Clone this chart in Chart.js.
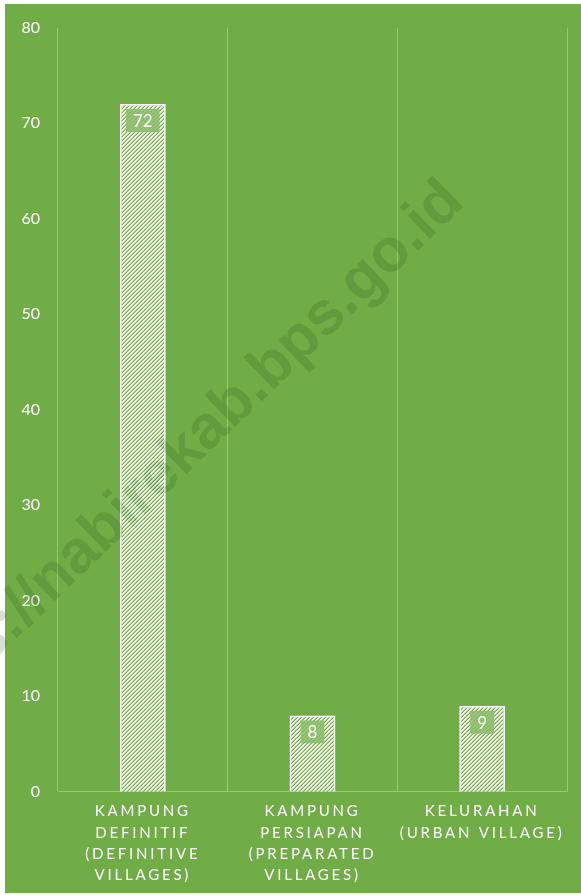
<!DOCTYPE html>
<html>
<head>
<meta charset="utf-8">
<script src="https://cdn.jsdelivr.net/npm/chart.js@4.4.1/dist/chart.umd.min.js"></script>
<style>
  html, body { margin: 0; padding: 0; background: #ffffff; }
  canvas { display: block; }
</style>
</head>
<body>
<canvas id="myChart" width="581" height="895"></canvas>
<script>
const categories = [
    ['KAMPUNG', 'DEFINITIF', '(DEFINITIVE', 'VILLAGES)'],
    ['KAMPUNG', 'PERSIAPAN', '(PREPARATED', 'VILLAGES)'],
    ['KELURAHAN', '(URBAN VILLAGE)']
];
const jumlahDesa = [72, 8, 9];
const yTicks = [0, 10, 20, 30, 40, 50, 60, 70, 80];

const hijau = '#70ad47';

// diagonal hatch like the excel "wide upward diagonal" fill
function makeHatch() {
    const n = 4;
    const c = document.createElement('canvas');
    c.width = n;
    c.height = n;
    const g = c.getContext('2d');
    g.fillStyle = hijau;
    g.fillRect(0, 0, n, n);
    for (let i = 0; i < n; i++) {
        g.fillStyle = '#ffffff';
        g.fillRect(i, (n - 1 - i) % n, 1, 1);
        g.fillRect(i, (n - i) % n, 1, 1);
        g.fillStyle = 'rgba(255,255,255,0.45)';
        g.fillRect(i, (n + 1 - i) % n, 1, 1);
    }
    return document.getElementById('myChart').getContext('2d').createPattern(c, 'repeat');
}

const background = {
    id: 'background',
    beforeDraw(chart) {
        const ctx = chart.ctx;
        ctx.save();
        ctx.fillStyle = '#ffffff';
        ctx.fillRect(0, 0, chart.width, chart.height);
        ctx.fillStyle = hijau;
        ctx.fillRect(5, 4, chart.width - 5, 889);
        ctx.restore();
    }
};

// wide letter spacing on the category labels
const spacedLabels = {
    id: 'spacedLabels',
    afterLayout(chart) {
        const sc = chart.scales.x;
        if (sc._spaced) return;
        const orig = sc.drawLabels.bind(sc);
        sc.drawLabels = function (area) {
            const ctx = chart.ctx;
            ctx.save();
            ctx.letterSpacing = '2.8px';
            orig(area);
            ctx.restore();
        };
        sc._spaced = true;
    }
};

const valueLabels = {
    id: 'valueLabels',
    afterDatasetsDraw(chart) {
        const ctx = chart.ctx;
        const meta = chart.getDatasetMeta(0);
        ctx.save();
        ctx.font = '17px Lato';
        ctx.textAlign = 'center';
        ctx.textBaseline = 'middle';
        meta.data.forEach((bar, i) => {
            const txt = String(jumlahDesa[i]);
            const w = ctx.measureText(txt).width + 14;
            const h = 23;
            const top = bar.y + 5;
            ctx.fillStyle = 'rgba(135, 187, 102, 0.85)';
            ctx.fillRect(bar.x - w / 2, top, w, h);
            ctx.fillStyle = '#ffffff';
            ctx.fillText(txt, bar.x, top + h / 2 + 1);
        });
        ctx.restore();
    }
};

const watermark = {
    id: 'watermark',
    afterDraw(chart) {
        const ctx = chart.ctx;
        ctx.save();
        ctx.translate(466, 204);
        ctx.rotate(-44 * Math.PI / 180);
        ctx.font = 'bold 61px "Liberation Sans"';
        ctx.textAlign = 'right';
        ctx.textBaseline = 'alphabetic';
        ctx.fillStyle = 'rgba(30, 70, 10, 0.17)';
        ctx.fillText('https://nabirekab.bps.go.id', 0, 0);
        ctx.restore();
    }
};

const ctx = document.getElementById('myChart').getContext('2d');
const myChart = new Chart(ctx, {
    type: 'bar',
    data: {
        labels: categories,
        datasets: [{
            data: jumlahDesa,
            backgroundColor: makeHatch(),
            borderColor: '#ffffff',
            borderWidth: 1.8,
            borderSkipped: 'start',
            barPercentage: 0.27,
            categoryPercentage: 1
        }]
    },
    options: {
        responsive: false,
        devicePixelRatio: 1,
        animation: false,
        layout: {
            padding: { left: 21, top: 26, right: 14, bottom: 0 }
        },
        plugins: {
            legend: { display: false },
            tooltip: { enabled: false }
        },
        scales: {
            x: {
                offset: true,
                afterFit(axis) {
                    axis.paddingLeft = 0;
                    axis.paddingRight = 0;
                },
                grid: {
                    display: true,
                    offset: true,
                    color: 'rgba(255, 255, 255, 0.3)',
                    drawTicks: false
                },
                border: {
                    display: true,
                    color: 'rgba(255, 255, 255, 0.3)'
                },
                ticks: {
                    color: '#ffffff',
                    padding: 9,
                    maxRotation: 0,
                    autoSkip: false,
                    font: { family: 'Lato', size: 15, lineHeight: 1.42 }
                }
            },
            y: {
                min: 0,
                max: 80,
                afterBuildTicks(axis) {
                    axis.ticks = yTicks.map(v => ({ value: v }));
                },
                afterFit(axis) {
                    axis.width = 37;
                },
                grid: { display: false, drawTicks: false },
                border: { display: false },
                ticks: {
                    color: '#ffffff',
                    padding: 18,
                    font: { family: 'Lato', size: 16 }
                }
            }
        }
    },
    plugins: [background, spacedLabels, valueLabels, watermark]
});
</script>
</body>
</html>
